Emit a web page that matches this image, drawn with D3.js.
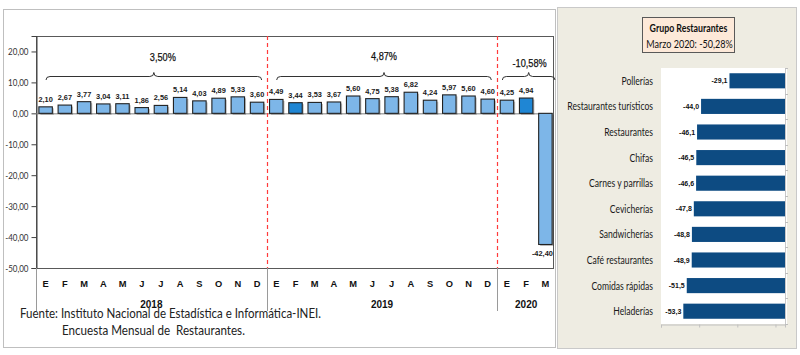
<!DOCTYPE html>
<html><head><meta charset="utf-8">
<script src="https://cdn.jsdelivr.net/npm/d3@7"></script>
<style>body{margin:0;background:#fff}svg{display:block}text{white-space:pre}</style>
</head><body><svg id="c" width="800" height="355"></svg>
<script>
// ---------- data ----------
const months = ["E","F","M","A","M","J","J","A","S","O","N","D"];
const years = ["2018","2019","2020"];
const values2018 = [2.10,2.67,3.77,3.04,3.11,1.86,2.56,5.14,4.03,4.89,5.33,3.60];
const values2019 = [4.49,3.44,3.53,3.67,5.60,4.75,5.38,6.82,4.24,5.97,5.60,4.60];
const values2020 = [4.25,4.94,-42.40];
const yearTotals = ["3,50%","4,87%","-10,58%"];
const highlightedBars = ["2019-1","2020-1"];
const yTicks = [20,10,0,-10,-20,-30,-40,-50];

const categories = ["Pollerías","Restaurantes turísticos","Restaurantes","Chifas","Carnes y parrillas","Cevicherías","Sandwicherías","Café restaurantes","Comidas rápidas","Heladerías"];
const categoryValues = [-29.1,-44.0,-46.1,-46.5,-46.6,-47.8,-48.8,-48.9,-51.5,-53.3];
const panelTitle = "Grupo Restaurantes";
const panelSubtitle = "Marzo 2020: -50,28%";
const footnote = ["Fuente: Instituto Nacional de Estadística e Informática-INEI.","Encuesta Mensual de  Restaurantes."];

// ---------- helpers ----------
const svg = d3.select("#c");
const CAL = "Lato, 'Open Sans', sans-serif";
const ARI = "'Liberation Sans', Arial, sans-serif";
function squeeze(sel, k){
  sel.each(function(){
    const w = this.getComputedTextLength();
    d3.select(this).attr("textLength", w*k).attr("lengthAdjust","spacingAndGlyphs");
  });
}
const fmt2 = v => d3.format(".2f")(v).replace(".",",").replace("−","-");
const fmt1 = v => d3.format(".1f")(v).replace(".",",").replace("−","-");

const seriesByYear = [values2018, values2019, values2020];
const rows = [];
seriesByYear.forEach((vals, yi) => vals.forEach((v, mi) => rows.push({year: years[yi], yi, mi, key: years[yi]+"-"+mi, month: months[mi], value: v})));

// ---------- left panel ----------
svg.append("rect").attr("x",3.5).attr("y",9.5).attr("width",552).attr("height",338)
  .attr("fill","#fff").attr("stroke","#bfbfbf");

const plot = {l:36, r:555, t:36, b:268};
const x = d3.scaleBand().domain(rows.map(d=>d.key)).range([plot.l, plot.r]).paddingInner(0.3).paddingOuter(0.15);
const y = d3.scaleLinear().domain([-50,25]).range([plot.b, plot.t]);
const boundary = key => x(key) - x.step()*x.paddingOuter();

// frame
svg.append("rect").attr("x",plot.l+0.5).attr("y",plot.t+0.5).attr("width",553-plot.l).attr("height",plot.b-plot.t)
  .attr("fill","none").attr("stroke","#595959");

// y axis
const yAxis = svg.append("g").attr("transform",`translate(${plot.l+0.5},0)`)
  .call(d3.axisLeft(y).tickValues(yTicks).tickSize(5).tickFormat(fmt2));
yAxis.select(".domain").attr("stroke","#404040");
yAxis.selectAll(".tick line").attr("stroke","#404040");
yAxis.selectAll(".tick text").attr("font-family",CAL).attr("font-size",10).attr("fill","#333").attr("x",-8).attr("dy","0.35em");
squeeze(yAxis.selectAll(".tick text"), 0.8);

// zero line
svg.append("line").attr("x1",plot.l).attr("x2",553).attr("y1",y(0)+0.5).attr("y2",y(0)+0.5).attr("stroke","#808080");

// year separators (dashed red)
years.slice(1).forEach(yr => {
  const bx = Math.round(boundary(yr+"-0"))+0.5;
  svg.append("line").attr("x1",bx).attr("x2",bx).attr("y1",plot.t).attr("y2",plot.b)
    .attr("stroke","#ff3b3b").attr("stroke-width",1.2).attr("stroke-dasharray","4,3");
});

// bars
const barG = svg.append("g");
barG.selectAll("rect.sh").data(rows).join("rect").attr("class","sh")
  .attr("x",d=>x(d.key)+1.5).attr("width",x.bandwidth())
  .attr("y",d=>Math.min(y(d.value),y(0))+1.5).attr("height",d=>Math.abs(y(d.value)-y(0)))
  .attr("fill","#000").attr("opacity",0.25);
barG.selectAll("rect.b").data(rows).join("rect").attr("class","b")
  .attr("x",d=>x(d.key)).attr("width",x.bandwidth())
  .attr("y",d=>Math.min(y(d.value),y(0))).attr("height",d=>Math.abs(y(d.value)-y(0)))
  .attr("fill",d=>highlightedBars.includes(d.key)?"#1f86d4":"#7db6e8")
  .attr("stroke","#222").attr("stroke-width",1.1);

// value labels
svg.append("g").selectAll("text").data(rows).join("text")
  .attr("x",d=>x(d.key)+x.bandwidth()/2 - (d.value<0?3:0))
  .attr("y",d=>d.value>=0 ? y(d.value)-5 : y(d.value)+12)
  .attr("text-anchor","middle").attr("font-family",ARI).attr("font-size",7.4).attr("font-weight","bold")
  .attr("fill","#1a1a1a").text(d=>fmt2(d.value));

// braces + totals
const braceInset = [[10,5],[10,6],[5,0]];
const totalDx = [9,0,1];
const totalBase = [60.5,59.5,66.5];
years.forEach((yr, i) => {
  const nKeys = seriesByYear[i].length;
  const g0 = boundary(yr+"-0");
  const g1 = g0 + nKeys*x.step();
  const x1 = g0 + braceInset[i][0], x2 = g1 - braceInset[i][1];
  const xm = (x1+x2)/2, yb = 76.5;
  const p = `M${x1},${yb+3.5} Q${x1},${yb} ${x1+4},${yb} L${xm-4},${yb} Q${xm},${yb} ${xm},${yb-4} Q${xm},${yb} ${xm+4},${yb} L${x2-4},${yb} Q${x2},${yb} ${x2},${yb+3.5}`;
  svg.append("path").attr("d",p).attr("fill","none").attr("stroke","#333").attr("stroke-width",1);
  const t = svg.append("text").attr("x",xm+totalDx[i]).attr("y",totalBase[i]).attr("text-anchor","middle")
    .attr("font-family",ARI).attr("font-size",11.5).attr("fill","#111").attr("stroke","#111").attr("stroke-width",0.25).text(yearTotals[i]);
  squeeze(t, 0.8);
});

// x axis: month and year labels, separators
svg.append("g").selectAll("text").data(rows).join("text")
  .attr("x",d=>x(d.key)+x.bandwidth()/2).attr("y",286.5).attr("text-anchor","middle")
  .attr("font-family",ARI).attr("font-size",9.3).attr("font-weight","bold").attr("fill","#111").text(d=>d.month);
years.forEach((yr,i) => {
  const g0 = boundary(yr+"-0");
  const g1 = g0 + seriesByYear[i].length*x.step();
  svg.append("text").attr("x",(g0+Math.min(g1,plot.r))/2).attr("y",307.5).attr("text-anchor","middle")
    .attr("font-family",ARI).attr("font-size",10).attr("font-weight","bold").attr("fill","#111").text(yr);
  const bx = Math.round(g0)+0.5;
  svg.append("line").attr("x1",bx).attr("x2",bx).attr("y1",plot.b).attr("y2",311).attr("stroke","#9a9a9a");
});

// footnote
const fn1 = svg.append("text").attr("x",20).attr("y",317.5).attr("font-family",CAL).attr("font-size",12.5).attr("fill","#222").text(footnote[0]);
const fn2 = svg.append("text").attr("x",62).attr("y",335).attr("font-family",CAL).attr("font-size",12.5).attr("fill","#222").text(footnote[1]);
squeeze(fn1, 0.92); squeeze(fn2, 0.93);

// ---------- right panel ----------
svg.append("rect").attr("x",557.5).attr("y",7.5).attr("width",239).attr("height",341)
  .attr("fill","#eeece2").attr("stroke","#c9c9c9");

svg.append("rect").attr("x",642.5).attr("y",17.5).attr("width",92).attr("height",35)
  .attr("fill","#fde9d9").attr("stroke","#595959");
const tt1 = svg.append("text").attr("x",688.5).attr("y",31.5).attr("text-anchor","middle")
  .attr("font-family",CAL).attr("font-size",11).attr("font-weight","bold").attr("fill","#111").text(panelTitle);
const tt2 = svg.append("text").attr("x",689.5).attr("y",48).attr("text-anchor","middle")
  .attr("font-family",CAL).attr("font-size",11).attr("fill","#111").text(panelSubtitle);
squeeze(tt1,0.8); squeeze(tt2,0.82);

const rp = {l:661, r:785, t:68, b:324};
svg.append("rect").attr("x",rp.l).attr("y",rp.t).attr("width",rp.r-rp.l+2).attr("height",rp.b-rp.t).attr("fill","#fff");
const xr = d3.scaleLinear().domain([-65,0]).range([rp.l, rp.r]);
const yr = d3.scaleBand().domain(categories).range([rp.t, rp.b]).paddingInner(0.41).paddingOuter(0.205);

const rx = svg.append("g").attr("transform",`translate(0,${rp.b+0.5})`)
  .call(d3.axisBottom(xr).tickValues([-65,-45,-25,-5]).tickSize(3).tickFormat(""));
rx.select(".domain").attr("stroke","#c0c0c0");
rx.selectAll(".tick line").attr("stroke","#c0c0c0");

const bounds = categories.map(c => yr(c) - yr.step()*yr.paddingOuter()).concat([rp.b]);
svg.append("line").attr("x1",rp.r+0.5).attr("x2",rp.r+0.5).attr("y1",rp.t).attr("y2",rp.b).attr("stroke","#c8c8c8");
svg.append("g").selectAll("line").data(bounds).join("line")
  .attr("x1",rp.r).attr("x2",rp.r+3).attr("y1",d=>Math.round(d)+0.5).attr("y2",d=>Math.round(d)+0.5).attr("stroke","#bdbdbd");

const cd = categories.map((c,i)=>({c, v: categoryValues[i]}));
svg.append("g").selectAll("rect").data(cd).join("rect")
  .attr("x",d=>xr(d.v)).attr("width",d=>xr(0)-xr(d.v))
  .attr("y",d=>yr(d.c)).attr("height",yr.bandwidth()).attr("fill","#0d4b82");
svg.append("g").selectAll("text").data(cd).join("text")
  .attr("x",d=>xr(d.v)-2).attr("y",d=>yr(d.c)+yr.bandwidth()/2+2.5).attr("text-anchor","end")
  .attr("font-family",ARI).attr("font-size",7).attr("font-weight","bold").attr("fill","#111").text(d=>fmt1(d.v));
const cl = svg.append("g").selectAll("text").data(cd).join("text")
  .attr("x",653).attr("y",d=>yr(d.c)+yr.bandwidth()/2+4).attr("text-anchor","end")
  .attr("font-family",CAL).attr("font-size",11).attr("fill","#1a1a1a").text(d=>d.c);
squeeze(cl, 0.78);
</script></body></html>
